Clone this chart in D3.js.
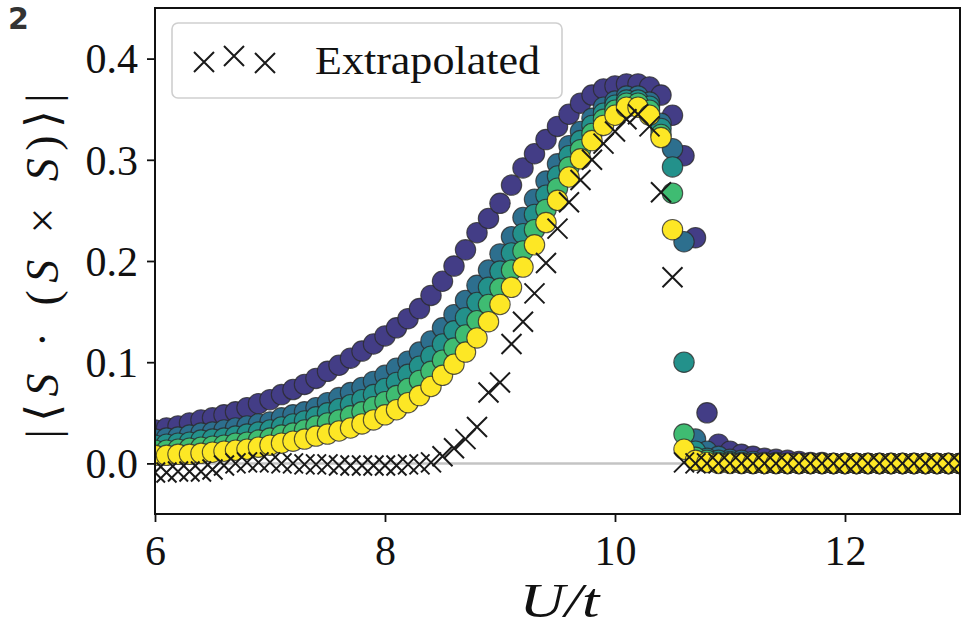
<!DOCTYPE html>
<html><head><meta charset="utf-8">
<script src="https://cdn.jsdelivr.net/npm/d3@7"></script>
<style>body{margin:0;background:#fff}svg{display:block}</style>
</head><body>
<svg id="chart" width="963" height="627"></svg>
<script>
// ---- data ----
const U = [6.0,6.1,6.2,6.3,6.4,6.5,6.6,6.7,6.8,6.9,
  7.0,7.1,7.2,7.3,7.4,7.5,7.6,7.7,7.8,7.9,
  8.0,8.1,8.2,8.3,8.4,8.5,8.6,8.7,8.8,8.9,
  9.0,9.1,9.2,9.3,9.4,9.5,9.6,9.7,9.8,9.9,
  10.0,10.1,10.2,10.3,10.4,10.5,10.6,10.7,10.8,10.9,
  11.0,11.1,11.2,11.3,11.4,11.5,11.6,11.7,11.8,11.9,
  12.0,12.1,12.2,12.3,12.4,12.5,12.6,12.7,12.8,12.9,13.0];
const series1 = [.033,.035,.037,.040,.043,.045,.048,.051,.055,.059,
  .063,.068,.073,.078,.084,.091,.097,.104,.111,.118,
  .126,.134,.143,.153,.166,.180,.195,.211,.228,.242,
  .257,.275,.292,.306,.320,.333,.345,.356,.364,.370,
  .373,.375,.375,.372,.364,.344,.304,.223,.050,.019,
  .012,.009,.007,.005,.004,.003,.002,.001,.001,0,
  0,0,0,0,0,0,0,0,0,0,0];
const series2 = [.024,.025,.026,.028,.030,.031,.033,.035,.037,.039,
  .041,.045,.048,.051,.055,.060,.065,.070,.075,.081,
  .087,.094,.101,.110,.121,.134,.147,.161,.176,.191,
  .207,.224,.243,.261,.279,.296,.314,.328,.341,.352,
  .358,.363,.363,.357,.336,.311,.219,.024,.012,.007,
  .004,.003,.002,.001,.001,0,0,0,0,0,
  0,0,0,0,0,0,0,0,0,0,0];
const series3 = [.018,.019,.020,.021,.023,.024,.025,.027,.029,.031,
  .033,.036,.039,.042,.046,.050,.054,.058,.063,.068,
  .074,.080,.088,.096,.106,.118,.131,.144,.159,.174,
  .190,.208,.227,.246,.265,.284,.304,.319,.334,.346,
  .354,.359,.359,.353,.331,.293,.100,.012,.005,.003,
  .002,.001,0,0,0,0,0,0,0,0,
  0,0,0,0,0,0,0,0,0,0,0];
const series4 = [.013,.013,.014,.015,.016,.017,.018,.020,.021,.023,
  .025,.028,.030,.033,.037,.040,.043,.047,.051,.056,
  .061,.067,.074,.082,.091,.102,.114,.127,.141,.157,
  .173,.191,.210,.231,.251,.272,.293,.310,.326,.340,
  .349,.356,.356,.349,.325,.267,.029,.006,.003,.001,
  .001,0,0,0,0,0,0,0,0,0,
  0,0,0,0,0,0,0,0,0,0,0];
const series5 = [.008,.008,.009,.009,.010,.011,.012,.013,.014,.016,
  .018,.020,.022,.024,.027,.029,.032,.035,.039,.043,
  .048,.053,.060,.067,.076,.087,.098,.110,.124,.140,
  .157,.174,.194,.216,.238,.260,.283,.301,.319,.334,
  .344,.352,.352,.344,.322,.231,.014,.003,.001,0,
  0,0,0,0,0,0,0,0,0,0,
  0,0,0,0,0,0,0,0,0,0,0];
const extrapolated = [-.009,-.009,-.008,-.008,-.008,-.006,-.002,0,.001,.001,
  .001,0,0,-.001,-.001,-.001,-.002,-.002,-.002,-.002,
  -.002,-.002,-.001,-.001,.001,.007,.015,.024,.036,.070,
  .080,.118,.140,.168,.198,.232,.258,.280,.300,.316,
  .328,.340,.345,.333,.268,.184,.001,0,0,0,
  0,0,0,0,0,0,0,0,0,0,
  0,0,0,0,0,0,0,0,0,0,0];
const xTicks = [6, 8, 10, 12];
const yTicks = [0.0, 0.1, 0.2, 0.3, 0.4];
const legendLabel = "Extrapolated";
const panelLabel = "2";

// ---- style ----
const colors = ["#433d86", "#2d6f8e", "#23918b", "#3fbc72", "#fde725"];
const serif = "'Liberation Serif','DejaVu Serif',serif";

const svg = d3.select("#chart");
const L = 155, R = 960, T = 8, B = 514;
const x = d3.scaleLinear().domain([6, 13]).range([L, R]);
const y = d3.scaleLinear().domain([-0.05, 0.45]).range([B, T]);

svg.append("defs").append("clipPath").attr("id", "clip")
  .append("rect").attr("x", L).attr("y", T).attr("width", R - L).attr("height", B - T);

const plot = svg.append("g").attr("clip-path", "url(#clip)");

// zero line
plot.append("line").attr("x1", L).attr("x2", R).attr("y1", y(0)).attr("y2", y(0))
  .attr("stroke", "#c4c4c4").attr("stroke-width", 2.5);

const all = [series1, series2, series3, series4, series5];
all.forEach((s, i) => {
  plot.append("g").selectAll("circle").data(s).join("circle")
    .attr("cx", (d, j) => x(U[j])).attr("cy", d => y(d)).attr("r", 10.2)
    .attr("fill", colors[i]).attr("stroke", "#2a2a2a").attr("stroke-opacity", 0.8).attr("stroke-width", 1.1);
});

const cross = (g, cx, cy, s) => {
  g.append("path").attr("d", `M${cx - s},${cy - s}L${cx + s},${cy + s}M${cx - s},${cy + s}L${cx + s},${cy - s}`)
    .attr("stroke", "#1a1a1a").attr("stroke-width", 2).attr("fill", "none");
};
const xg = plot.append("g");
extrapolated.forEach((d, j) => cross(xg, x(U[j]), y(d), 10));

// frame
svg.append("rect").attr("x", L).attr("y", T).attr("width", R - L).attr("height", B - T)
  .attr("fill", "none").attr("stroke", "#111").attr("stroke-width", 2);

// axes
const ax = svg.append("g").attr("transform", `translate(0,${B})`)
  .call(d3.axisBottom(x).tickValues(xTicks).tickSize(8).tickPadding(10).tickFormat(d3.format("d")));
const ay = svg.append("g").attr("transform", `translate(${L},0)`)
  .call(d3.axisLeft(y).tickValues(yTicks).tickSize(8).tickPadding(9).tickFormat(d3.format(".1f")));
[ax, ay].forEach(a => {
  a.select(".domain").remove();
  a.selectAll(".tick line").attr("stroke", "#111").attr("stroke-width", 1.8);
  a.selectAll(".tick text").attr("font-family", serif).attr("font-size", 42).attr("fill", "#111");
});
ax.selectAll(".tick text").attr("dy", "0.78em");
ay.selectAll(".tick text").attr("dy", "0.34em");

// axis labels
svg.append("text").attr("x", (L + R) / 2 + 2).attr("y", 617).attr("text-anchor", "middle")
  .attr("font-family", serif).attr("font-size", 48).attr("font-style", "italic").attr("fill", "#111")
  .attr("textLength", 80).attr("lengthAdjust", "spacingAndGlyphs")
  .text("U/t");

const yl = svg.append("text").attr("transform", `translate(58,${(T + B) / 2 + 5}) rotate(-90)`)
  .attr("text-anchor", "middle").attr("font-family", serif).attr("font-size", 46).attr("fill", "#111")
  .attr("textLength", 345).attr("lengthAdjust", "spacing");
[["|⟨", false], ["S", true], [" · (", false], ["S", true], [" × ", false], ["S", true], [")⟩|", false]]
  .forEach(([t, it]) => yl.append("tspan").attr("font-style", it ? "italic" : "normal").text(t));

// legend
svg.append("rect").attr("x", 172).attr("y", 23).attr("width", 390).attr("height", 75).attr("rx", 6)
  .attr("fill", "#fff").attr("fill-opacity", 0.85).attr("stroke", "#cfcfcf").attr("stroke-width", 1.6);
const lg = svg.append("g");
cross(lg, 204, 62, 10); cross(lg, 234, 56, 10); cross(lg, 265, 63, 10);
svg.append("text").attr("x", 315).attr("y", 74).attr("font-family", serif).attr("font-size", 40)
  .attr("fill", "#111").attr("textLength", 225).attr("lengthAdjust", "spacingAndGlyphs").text(legendLabel);

// panel label
svg.append("text").attr("x", 8).attr("y", 29).attr("font-family", "'DejaVu Sans',sans-serif")
  .attr("font-weight", "bold").attr("font-size", 30).attr("fill", "#333").text(panelLabel);
</script>
</body></html>
